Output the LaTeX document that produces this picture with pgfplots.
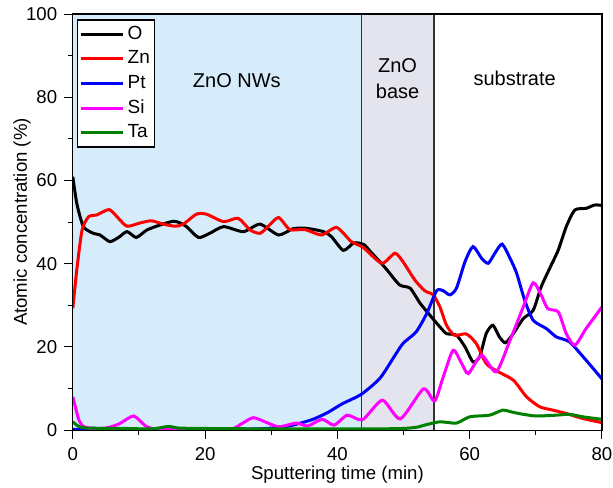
\documentclass[border=0pt]{standalone}
\usepackage{fontspec}
\setmainfont{Liberation Sans}
\usepackage{pgfplots}
\pgfplotsset{compat=1.18}
\definecolor{nwblue}{RGB}{214,236,250}
\definecolor{basegray}{RGB}{228,228,238}
\definecolor{tagreen}{RGB}{0,128,0}
\definecolor{simag}{RGB}{255,0,255}
\definecolor{ptblue}{RGB}{0,0,255}
\definecolor{znred}{RGB}{255,0,0}
\begin{document}
\begin{tikzpicture}
\useasboundingbox (-36.4pt,-28.5pt) rectangle (270pt,215pt);
\begin{axis}[
  at={(0pt,0pt)}, anchor=south west,
  scale only axis,
  width=264.5pt, height=208pt,
  xmin=0, xmax=80, ymin=0, ymax=100,
  xtick={0,20,40,60,80}, ytick={0,20,40,60,80,100},
  minor xtick={10,30,50,70}, minor ytick={10,30,50,70,90},
  tick align=outside, xtick pos=bottom, ytick pos=left,
  major tick length=4.3pt, minor tick length=2.2pt,
  every tick/.style={black, line width=0.5pt},
  axis line style={black, line width=0.6pt},
  /pgf/number format/assume math mode=true,
  tick label style={font=\fontsize{9.3}{11}\selectfont},
  xticklabel style={yshift=-0.8pt},
  label style={font=\fontsize{9.3}{11}\selectfont},
  xlabel={Sputtering time (min)},
  ylabel={Atomic concentration (\%)},
  xlabel style={at={(axis description cs:0.5,-0.106)}, anchor=center},
  ylabel style={at={(axis description cs:-0.096,0.5)}, anchor=center},
  axis on top,
  clip=true,
  legend cell align=left,
  legend style={at={(0.008,0.987)}, anchor=north west, draw=black, line width=0.6pt, fill=white,
    font=\fontsize{9.5}{11}\selectfont, row sep=0.2pt, inner sep=1pt,
    nodes={inner xsep=1.5pt}},
  legend image code/.code={\draw[#1, line width=1.5pt] (0pt,0pt) -- (21pt,0pt);},
  every axis plot/.append style={line width=1.5pt, smooth, tension=0.4},
]
\fill[nwblue] (axis cs:0,0) rectangle (axis cs:43.6,100);
\fill[basegray] (axis cs:43.6,0) rectangle (axis cs:54.6,100);
\draw[black!80, line width=0.6pt] (axis cs:43.6,0) -- (axis cs:43.6,100);
\draw[black!80, line width=0.6pt] (axis cs:54.6,0) -- (axis cs:54.6,100);

\addplot[black] coordinates {
(0,60.9) (0.6,54.5) (1.6,48.9) (3.1,47.3) (4.1,46.9) (5.6,45.3) (6.9,46.3) (8.2,47.7) (9.6,46.3)
(11.2,48.1) (13.2,49.3) (15.2,50.2) (16.2,49.8) (17.2,48.9) (19.0,46.3) (20.7,47.3) (22.8,48.9)
(25.8,47.7) (28.3,49.5) (31.1,46.9) (33.3,48.4) (35.3,48.5) (37.9,47.7) (39.1,46.5) (40.9,43.2)
(42.5,45.0) (44.0,44.6) (45.0,42.9) (46.4,40.5) (47.5,38.5) (49.4,34.9) (51.0,34.1) (52.5,30.5)
(54.0,27.6) (55.5,24.8) (56.5,23.2) (58.0,22.8) (59.3,20.0) (60.5,16.4) (61.5,17.6) (62.5,23.2)
(63.5,25.2) (64.5,22.4) (65.4,21.0) (66.6,23.2) (68.1,26.8) (69.6,28.8) (70.8,34.4) (72.1,38.9)
(73.4,43.3) (74.6,48.9) (75.9,52.9) (77.6,53.3) (78.9,54.1) (80,54.0)
};
\addlegendentry{O}
\addplot[znred] coordinates {
(0,29.3) (0.6,38.5) (1.4,48.1) (2.4,51.3) (3.6,51.7) (5.5,53.0) (6.9,50.9) (8.2,49.0) (10.2,49.8)
(11.9,50.3) (13.7,49.5) (15.5,49.0) (16.7,49.5) (18.7,51.9) (20.2,51.9) (22.8,50.1) (25.0,50.9)
(26.8,48.1) (28.3,47.3) (29.5,48.9) (31.1,51.1) (32.8,48.2) (35.1,48.2) (37.6,46.9) (39.9,48.7)
(42.1,45.3) (43.9,43.9) (46.7,40.1) (48.7,42.5) (49.9,40.5) (51.7,36.1) (53.2,33.5) (54.5,32.5)
(55.5,29.6) (56.5,25.2) (57.7,22.8) (59.5,23.1) (61.0,20.8) (62.5,16.0) (64.0,14.3) (66.6,12.0)
(68.6,8.0) (70.6,5.6) (72.6,4.8) (74.6,4.0) (77.1,2.8) (80,1.8)
};
\addlegendentry{Zn}
\addplot[ptblue] coordinates {
(0,0.2) (5,0.1) (10,0.1) (20,0.2) (28,0.3) (32,0.8) (34,1.5) (36.3,2.6) (38.5,4.2) (40.7,6.3)
(43.6,8.6) (46.4,12.4) (48.4,17.2) (49.9,20.8) (51.9,23.6) (53.5,28.0) (55.0,33.5) (56.0,33.5)
(57.0,32.5) (58.0,34.1) (59.3,40.5) (60.5,44.1) (61.8,41.3) (62.8,40.1) (63.8,42.5) (64.9,44.7)
(66.1,41.3) (67.1,37.7) (68.3,31.3) (69.6,26.4) (71.6,24.4) (73.1,22.4) (75.1,21.2) (77.6,16.8)
(80,12.3)
};
\addlegendentry{Pt}
\addplot[simag] coordinates {
(0,8.0) (0.4,5.5) (0.9,2.5) (1.5,1.0) (2.5,0.5) (5,0.5) (7,1.5) (9.2,3.4) (11,1.0) (12.5,0.2)
(15,0.1) (20,0.1) (24,0.3) (25.5,1.5) (27.3,3.0) (29.5,1.7) (31.2,0.8) (33.8,1.7) (35.5,1.0)
(37.7,2.6) (39.5,1.2) (41.5,3.6) (43.8,2.5) (46.8,7.2) (49.5,2.7) (53.0,9.9) (54.7,7.0) (56.0,12.8)
(57.5,19.2) (58.8,16.0) (59.8,13.6) (61.8,18.0) (64.0,14.0) (66.1,21.6) (68.1,29.6) (69.6,35.4)
(70.8,32.5) (71.8,29.2) (73.4,28.4) (74.6,23.2) (75.9,20.4) (77.6,24.4) (80,29.6)
};
\addlegendentry{Si}
\addplot[tagreen] coordinates {
(0,2.0) (0.8,1.0) (2,0.5) (8,0.4) (12,0.3) (14.5,0.9) (16,0.5) (20,0.4) (30,0.3) (40,0.3) (46,0.3)
(50,0.4) (52,0.7) (53.4,1.3) (55.5,2.0) (58.0,1.7) (60.0,3.2) (63.0,3.6) (65.0,4.8) (66.5,4.3)
(68.1,3.8) (70.1,3.4) (73.1,3.6) (75.1,3.8) (77.1,3.2) (80,2.6)
};
\addlegendentry{Ta}

\node[font=\fontsize{10}{12}\selectfont] at (axis cs:24.8,84) {ZnO NWs};
\node[font=\fontsize{10}{12}\selectfont, align=center] at (axis cs:49.1,84.5) {ZnO\\[1pt]base};
\node[font=\fontsize{10}{12}\selectfont] at (axis cs:66.8,84.6) {substrate};
\end{axis}
\end{tikzpicture}
\end{document}
